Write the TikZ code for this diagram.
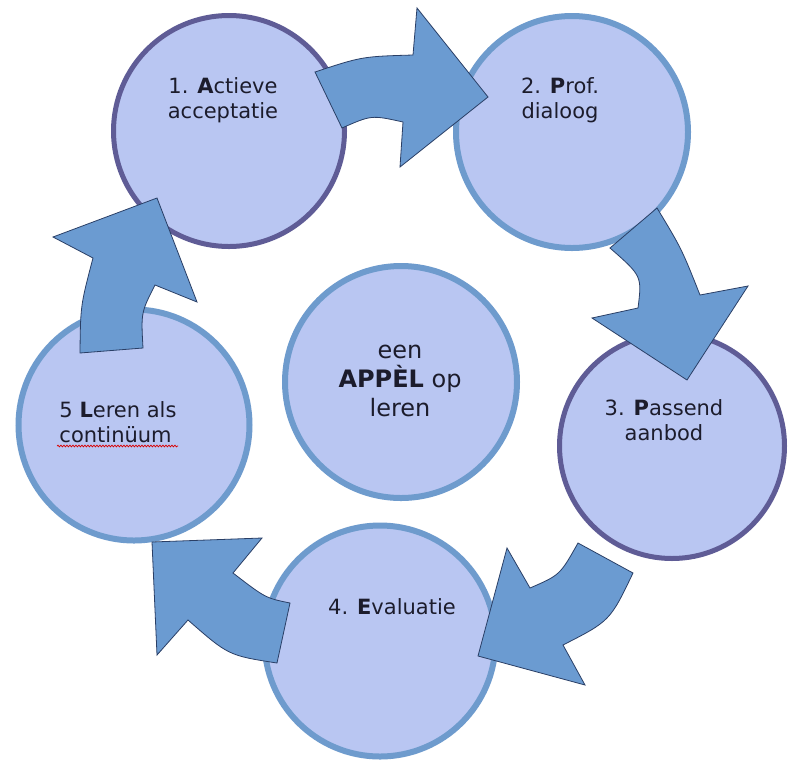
\documentclass[tikz,border=0pt]{standalone}
\usepackage{fontspec}
\setmainfont{DejaVu Sans}
\usetikzlibrary{decorations.pathmorphing}
\definecolor{cfill}{HTML}{B9C6F2}
\definecolor{cblue}{HTML}{6E9BCD}
\definecolor{cpurple}{HTML}{5F5C96}
\definecolor{afill}{HTML}{6B9BD1}
\definecolor{aline}{HTML}{2A3F66}
\definecolor{tcol}{HTML}{1C1C2C}
\begin{document}
\begin{tikzpicture}[x=1pt,y=-1pt,
  ringblue/.style={circle, fill=cfill, draw=cblue, line width=6pt, inner sep=0pt, minimum size=#1},
  ringpurple/.style={circle, fill=cfill, draw=cpurple, line width=5pt, inner sep=0pt, minimum size=#1},
  label/.style={align=center, text=tcol, font=\fontsize{21}{25}\selectfont, inner sep=0pt},
  biglabel/.style={align=center, text=tcol, font=\fontsize{24}{29}\selectfont, inner sep=0pt},
  blockarrow/.style={fill=afill, draw=aline, line width=0.8pt, line join=miter}]
\fill[white] (0,0) rectangle (790,764);
\useasboundingbox (0,0) rectangle (790,764);

% circles
\node[ringpurple=231] (c1) at (229,131) {};
\node[ringblue=232] (c2) at (572,132) {};
\node[ringpurple=225] (c3) at (672,446) {};
\node[ringblue=231] (c4) at (380,641) {};
\node[ringblue=231] (c5) at (134,425) {};
\node[ringblue=232] (c0) at (401,382) {};

% labels
\node[label] (t1) at (223,100) {1. \textbf{A}ctieve\\acceptatie};
\node[label] (t2) at (560,100) {2. \textbf{P}rof.\\dialoog};
\node[label] (t3) at (664,420) {3. \textbf{P}assend\\aanbod};
\node[label] (t4) at (392,607) {4. \textbf{E}valuatie};
\node[label, align=left] (t5) at (118,422) {5 \textbf{L}eren als\\continüum};
\node[biglabel] (t0) at (400,381) {een\\\textbf{APPÈL} op\\leren};

% spell-check underline
\coordinate (u1) at (57,446);
\coordinate (u2) at (178,446);
\draw[red!85!black, line width=0.7pt, decorate, decoration={snake, amplitude=0.9pt, segment length=3pt}] (u1) -- (u2);

% arrows
% 1 -> 2
\draw[blockarrow] (315,72) .. controls (362,56.5) .. (413,55) -- (417,8) -- (488,97) -- (400,167) -- (403,122)
  .. controls (371.5,115) .. (342,128) -- cycle;
% 2 -> 3
\draw[blockarrow] (657,208) .. controls (681.5,248.5) .. (700,295) -- (748,286) -- (687,380) -- (592,318) -- (638,308)
  .. controls (642,276) .. (610,248) -- cycle;
% 3 -> 4
\draw[blockarrow] (633,573) .. controls (610,621) .. (563,645) -- (585,685) -- (478,656) -- (507,548) -- (530,588)
  .. controls (560,575) .. (578,543) -- cycle;
% 4 -> 5
\draw[blockarrow] (277,663) .. controls (228.5,655.5) .. (188,620) -- (157,655) -- (152,542) -- (262,538) -- (233,573)
  .. controls (265.5,598) .. (290,603) -- cycle;
% 5 -> 1
\draw[blockarrow] (80,353) .. controls (80.5,305.5) .. (93,258) -- (53,237) -- (157,198) -- (197,302) -- (155,285)
  .. controls (141,312.5) .. (143,348) -- cycle;
\end{tikzpicture}
\end{document}
